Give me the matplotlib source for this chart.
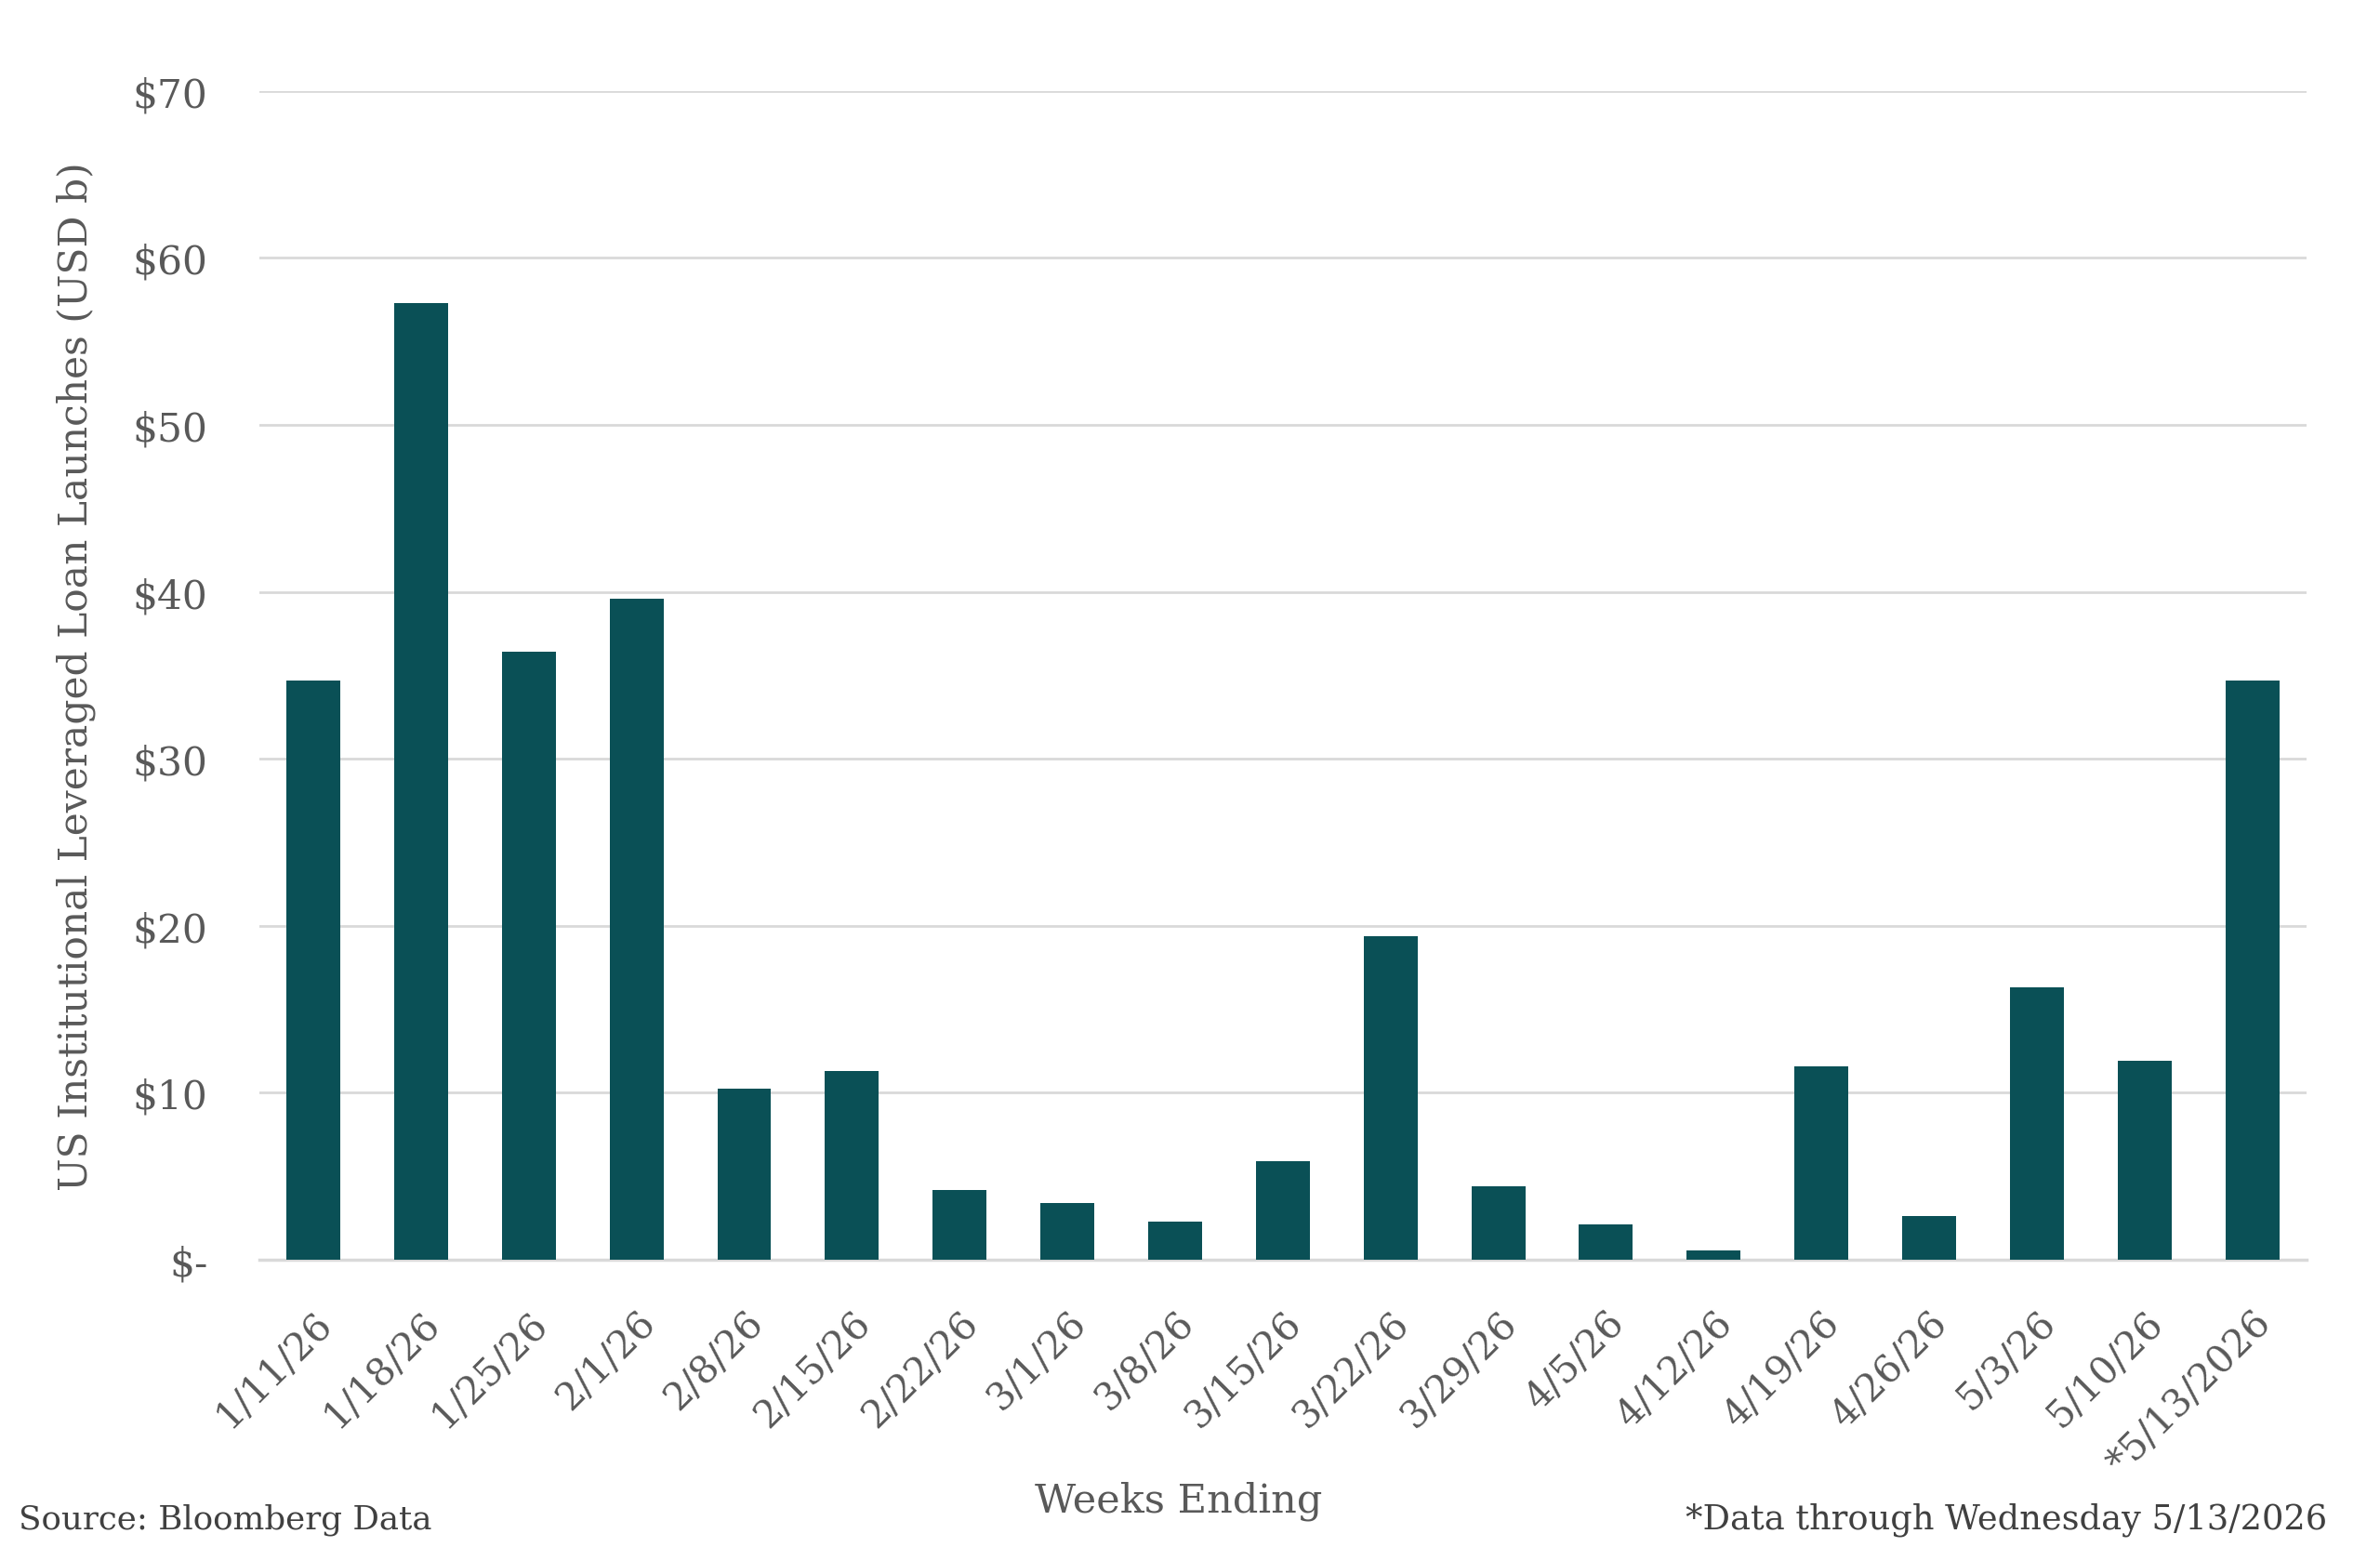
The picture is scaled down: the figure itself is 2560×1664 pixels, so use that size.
import matplotlib
matplotlib.use("Agg")
import matplotlib.pyplot as plt
from matplotlib.ticker import FuncFormatter

weeks = ["1/11/26", "1/18/26", "1/25/26", "2/1/26", "2/8/26", "2/15/26", "2/22/26",
         "3/1/26", "3/8/26", "3/15/26", "3/22/26", "3/29/26", "4/5/26", "4/12/26",
         "4/19/26", "4/26/26", "5/3/26", "5/10/26", "*5/13/2026"]
launches = [34.7, 57.3, 36.4, 39.6, 10.25, 11.3, 4.15, 3.4, 2.3, 5.9, 19.4, 4.4,
            2.1, 0.55, 11.6, 2.6, 16.3, 11.9, 34.7]
y_ticks = [0, 10, 20, 30, 40, 50, 60, 70]

bar_color = "#0a5056"
text_color = "#595959"
note_color = "#404040"
grid_color = "#d9d9d9"

plt.rcParams["font.family"] = ["DejaVu Serif"]

fig = plt.figure(figsize=(25.6, 16.65), dpi=100)
ax = fig.add_axes([0.109, 0.1856, 0.86, 0.755])

x = range(len(weeks))
ax.bar(x, launches, width=0.5, color=bar_color, zorder=3)

ax.set_xlim(-0.5, len(weeks) - 0.5)
ax.set_ylim(0, 70)
ax.set_yticks(y_ticks)
ax.yaxis.set_major_formatter(FuncFormatter(lambda v, p: "$-" if v == 0 else f"${v:.0f}"))
ax.grid(True, axis="y", color=grid_color, linewidth=2, zorder=0)
for s in ["top", "right", "left"]:
    ax.spines[s].set_visible(False)
ax.spines["bottom"].set_color(grid_color)
ax.spines["bottom"].set_linewidth(2.5)

ax.set_xticks(list(x))
ax.set_xticklabels(weeks, rotation=45, ha="right", rotation_mode="anchor")
ax.tick_params(axis="x", length=0, pad=34, labelsize=29.5, labelcolor=text_color)
ax.tick_params(axis="y", length=0, pad=40, labelsize=30.5, labelcolor=text_color)

ax.set_ylabel("US Institutional Leveraged Loan Launches (USD b)", fontsize=30.5,
              color=text_color)
ax.yaxis.set_label_coords(-0.080, 0.5)

fig.text(0.495, 0.030, "Weeks Ending", fontsize=31, color=text_color,
         ha="center", va="center")
fig.text(0.008, 0.018, "Source: Bloomberg Data", fontsize=25.7, color=note_color,
         ha="left", va="center")
fig.text(0.978, 0.018, "*Data through Wednesday 5/13/2026", fontsize=26.5,
         color=note_color, ha="right", va="center")

fig.savefig("out.png", dpi=100, facecolor="white")
